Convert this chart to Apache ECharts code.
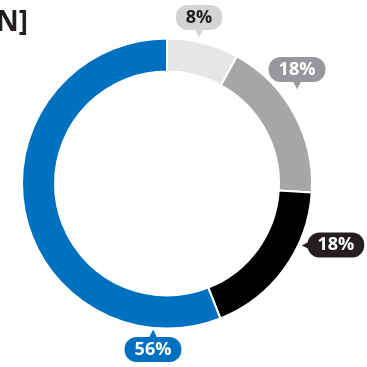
<!DOCTYPE html>
<html><head><meta charset="utf-8">
<script src="https://cdn.jsdelivr.net/npm/echarts@6/dist/echarts.min.js"></script>
<style>html,body{margin:0;padding:0;background:#fff}#c{width:367px;height:367px}</style>
</head><body><div id="c"></div>
<script>
var categories = ['Segment A', 'Segment B', 'Segment C', 'Segment D'];
var values = [8, 18, 18, 56];
var labels = ['8%', '18%', '18%', '56%'];
var titleText = 'N]';

var sliceColors = ['#e6e6e6', '#a6a6a6', '#000000', '#0070c0'];
var boxColors = ['#d4d4d5', '#98989c', '#231f20', '#0070c0'];
var textColors = ['#231f20', '#ffffff', '#ffffff', '#ffffff'];
var labelPlace = [
  {x: 199, y: 37, align: 'center', verticalAlign: 'bottom', ptr: 'down'},
  {x: 297, y: 89, align: 'center', verticalAlign: 'bottom', ptr: 'down'},
  {x: 333, y: 245, align: 'center', verticalAlign: 'middle', ptr: 'left'},
  {x: 153, y: 330, align: 'center', verticalAlign: 'top', ptr: 'up'}
];

var FONT = 'Open Sans';
var rich = {};
boxColors.forEach(function (bc, i) {
  rich['box' + i] = {backgroundColor: bc, color: textColors[i], fontFamily: FONT, fontWeight: 'bold',
    fontSize: 18, height: 25, lineHeight: 25, padding: [0, 10, 0, 10], borderRadius: 12, align: 'center'};
  rich['ptr' + i] = {color: bc, fontSize: 10, height: 7, lineHeight: 7, fontFamily: 'DejaVu Sans', align: 'center'};
  rich['lft' + i] = {color: bc, fontSize: 10, height: 25, lineHeight: 25, fontFamily: 'DejaVu Sans', padding: [0, -2, 0, 0]};
});
var data = categories.map(function (c, i) {
  return {name: c, value: values[i], itemStyle: {color: sliceColors[i]}};
});

var chart = echarts.init(document.getElementById('c'), null, {renderer: 'canvas'});
chart.setOption({
  animation: false,
  title: {text: titleText, left: -9, top: 4,
    textStyle: {fontFamily: FONT, fontWeight: 'bold', fontSize: 28, color: '#231f20'}},
  series: [{
    type: 'pie',
    center: [167, 183.5],
    radius: [112, 145],
    startAngle: 90,
    clockwise: true,
    itemStyle: {borderColor: '#ffffff', borderWidth: 2},
    label: {
      show: true, position: 'outside', overflow: 'none', alignTo: 'none',
      rich: rich,
      formatter: function (p) {
        var i = p.dataIndex, t = labels[i], s = labelPlace[i].ptr;
        if (s === 'down') return '{box' + i + '|' + t + '}\n{ptr' + i + '|\u25BC}';
        if (s === 'up') return '{ptr' + i + '|\u25B2}\n{box' + i + '|' + t + '}';
        return '{lft' + i + '|\u25C0}{box' + i + '|' + t + '}';
      }
    },
    labelLine: {show: false},
    labelLayout: function (params) {
      var p = labelPlace[params.dataIndex];
      return {x: p.x, y: p.y, align: p.align, verticalAlign: p.verticalAlign, moveOverlap: false, hideOverlap: false};
    },
    emphasis: {disabled: true},
    data: data
  }]
});
</script></body></html>
